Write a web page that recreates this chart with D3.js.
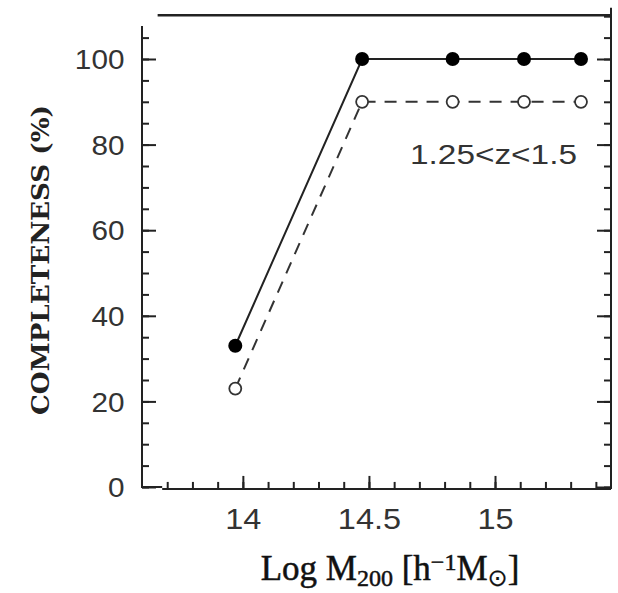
<html>
<head>
  <title>Completeness</title>
  <script src="https://cdn.jsdelivr.net/npm/d3@7/dist/d3.min.js"></script>
  <style>
    body { margin: 0; background: #fff; }
    .tick text { font-family: "Liberation Sans", Arial, sans-serif; fill: #333; }
  </style>
</head>
<body>
<script type="text/javascript">
  // data
  var massBins   = [13.97, 14.473, 14.832, 15.115, 15.341];
  var complete   = [33, 100, 100, 100, 100];   // filled circles, solid line
  var completeB  = [23, 90, 90, 90, 90];       // open circles, dashed line
  var xMajor = [14, 14.5, 15];
  var yMajor = [0, 20, 40, 60, 80, 100];
  var zLabel = "1.25<z<1.5";

  var width = 618, height = 593;

  var svg = d3.select("body")
    .append("svg")
    .attr("width", width)
    .attr("height", height);

  var x = d3.scaleLinear().domain([13.6, 15.46]).range([142, 611]);
  var y = d3.scaleLinear().domain([0, 100]).range([487, 59]);

  var xMinor = d3.range(13.7, 15.45, 0.1).map(function (d) { return +d.toFixed(1); });
  var yMinorL = d3.range(0, 106, 5);
  var yMinorR = d3.range(0, 111, 5);

  var ink = "#222";

  // left axis: minor then major with labels
  svg.append("g")
    .attr("transform", "translate(" + x(13.6) + ",0)")
    .call(d3.axisLeft(y).tickValues(yMinorL).tickSize(-7).tickFormat(""));
  svg.append("g")
    .attr("transform", "translate(" + x(13.6) + ",0)")
    .call(d3.axisLeft(y).tickValues(yMajor).tickSize(-14).tickPadding(16))
    .selectAll("text").style("font-size", "27px").attr("dy", "0.36em")
    .attr("transform", "scale(1.1,1)");

  // right axis
  svg.append("g")
    .attr("transform", "translate(" + x(15.46) + ",0)")
    .call(d3.axisRight(y).tickValues(yMinorR).tickSize(-7).tickFormat(""));
  svg.append("g")
    .attr("transform", "translate(" + x(15.46) + ",0)")
    .call(d3.axisRight(y).tickValues(yMajor).tickSize(-14).tickFormat(""));

  // bottom axis
  var baseY = y(-0.45);
  svg.append("g")
    .attr("transform", "translate(0," + baseY + ")")
    .call(d3.axisBottom(x).tickValues(xMinor).tickSize(-7).tickFormat(""));
  svg.append("g")
    .attr("transform", "translate(0," + baseY + ")")
    .call(d3.axisBottom(x).tickValues(xMajor).tickSize(-13).tickPadding(19)
      .tickFormat(function (d) { return d; }))
    .selectAll("text").style("font-size", "29px").attr("dy", "0.71em")
    .attr("transform", "scale(1.12,1)")
    .attr("x", function () {
      // undo the horizontal stretch on the anchor point
      return 0;
    });

  svg.selectAll(".domain").remove();
  svg.selectAll(".tick line").attr("stroke", ink).attr("stroke-width", 2);

  // frame pieces
  var frame = svg.append("g").attr("stroke", ink).attr("stroke-width", 2).attr("fill", "none");
  frame.append("path").attr("d", d3.line()([
    [x(13.6), y(107.7)], [x(13.6), y(0)], [x(13.68), y(0)]
  ]));
  frame.append("line")
    .attr("x1", x(13.68)).attr("x2", x(15.46))
    .attr("y1", baseY).attr("y2", baseY);
  frame.append("line")
    .attr("x1", x(15.46)).attr("x2", x(15.46))
    .attr("y1", y(112)).attr("y2", baseY);
  frame.append("line")
    .attr("x1", x(13.662)).attr("x2", x(15.46))
    .attr("y1", y(110.2)).attr("y2", y(110.2))
    .attr("stroke-width", 2.5);

  // series
  var line = d3.line()
    .x(function (d) { return x(d[0]); })
    .y(function (d) { return y(d[1]); });

  var ptsA = d3.zip(massBins, complete);
  var ptsB = d3.zip(massBins, completeB);

  svg.append("path")
    .attr("d", line(ptsB))
    .attr("fill", "none")
    .attr("stroke", "#333")
    .attr("stroke-width", 2)
    .attr("stroke-dasharray", "12,9");

  svg.append("path")
    .attr("d", line(ptsA))
    .attr("fill", "none")
    .attr("stroke", ink)
    .attr("stroke-width", 2);

  svg.selectAll("circle.open")
    .data(ptsB).enter()
    .append("circle")
    .attr("class", "open")
    .attr("cx", function (d) { return x(d[0]); })
    .attr("cy", function (d) { return y(d[1]); })
    .attr("r", 6)
    .attr("fill", "#fff")
    .attr("stroke", "#333")
    .attr("stroke-width", 1.8);

  svg.selectAll("circle.full")
    .data(ptsA).enter()
    .append("circle")
    .attr("class", "full")
    .attr("cx", function (d) { return x(d[0]); })
    .attr("cy", function (d) { return y(d[1]); })
    .attr("r", 7)
    .attr("fill", "#000");

  // redshift label
  svg.append("text")
    .attr("x", x(13.6) + 268)
    .attr("y", y(75.5))
    .attr("textLength", 167)
    .attr("lengthAdjust", "spacingAndGlyphs")
    .style("font-family", "Liberation Sans, Arial, sans-serif")
    .style("font-size", "28px")
    .style("fill", "#333")
    .text(zLabel);

  // y title
  svg.append("text")
    .attr("transform", "translate(49," + 260 + ") rotate(-90)")
    .attr("text-anchor", "middle")
    .attr("textLength", 310)
    .attr("lengthAdjust", "spacingAndGlyphs")
    .style("font-family", "DejaVu Serif Condensed, DejaVu Serif, serif")
    .style("font-weight", "bold")
    .style("font-size", "24px")
    .style("fill", "#222")
    .text("COMPLETENESS (%)");

  // x title
  var xt = svg.append("text")
    .attr("x", 390)
    .attr("y", 580)
    .attr("text-anchor", "middle")
    .style("font-family", "Liberation Serif, Times New Roman, serif")
    .style("font-size", "35px")
    .style("fill", "#111")
    .style("stroke", "#111")
    .style("stroke-width", 0.5);
  xt.append("tspan").text("Log M");
  xt.append("tspan").attr("baseline-shift", "-25%").style("font-size", "24px").text("200");
  xt.append("tspan").text(" [h");
  xt.append("tspan").attr("baseline-shift", "40%").style("font-size", "24px").text("\u22121");
  xt.append("tspan").text("M");
  xt.append("tspan").attr("baseline-shift", "-25%").style("font-size", "24px")
    .style("font-family", "DejaVu Sans, sans-serif").style("stroke-width", 0.2).text("\u2299");
  xt.append("tspan").text("]");
</script>
</body>
</html>
